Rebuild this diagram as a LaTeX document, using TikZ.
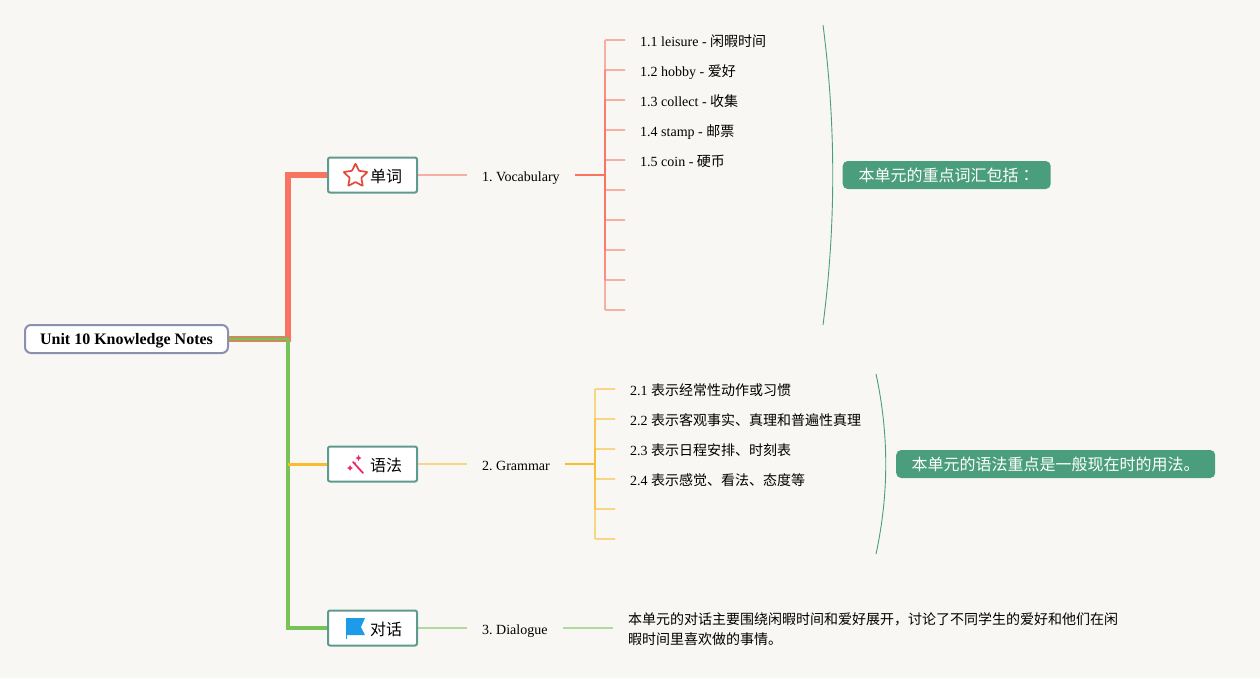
\documentclass[tikz,border=0pt]{standalone}
\usepackage{fontspec}
\setmainfont{Liberation Serif}
\newfontfamily\cjk{Noto Sans CJK SC}
\newfontfamily\cjktc{Noto Sans CJK TC}
\frenchspacing
\usetikzlibrary{calc,shapes.geometric}
\definecolor{bgc}{HTML}{F9F7F4}
\definecolor{rootb}{HTML}{8A90B0}
\definecolor{boxb}{HTML}{5F9A8F}
\definecolor{redc}{HTML}{F97361}
\definecolor{greenc}{HTML}{78C257}
\definecolor{olivec}{HTML}{A89C5C}
\definecolor{yellowc}{HTML}{F8BC2C}
\definecolor{pillc}{HTML}{4A9E7E}
\definecolor{staric}{HTML}{E5493A}
\definecolor{wandc}{HTML}{EC2A72}
\definecolor{flagc}{HTML}{1E9BE8}
\tikzset{
  x=1pt,y=-1pt,
  rootnode/.style={draw=rootb,line width=2pt,fill=white,rounded corners=6pt,minimum width=203pt,minimum height=28pt,inner sep=0pt},
  branchbox/.style={draw=boxb,line width=2pt,fill=white,rounded corners=2pt,minimum width=89pt,minimum height=35pt,inner sep=0pt},
  branchtext/.style={inner sep=0pt,font=\fontsize{16}{20}\selectfont\cjk},
  topic/.style={anchor=west,inner xsep=15pt,inner ysep=0pt,text height=10pt,text depth=3pt,font=\fontsize{14}{16}\selectfont},
  leaf/.style={anchor=west,inner xsep=15pt,inner ysep=0pt,text height=10pt,text depth=3pt,font=\fontsize{14}{16}\selectfont},
  pill/.style={anchor=west,fill=pillc,text=white,rounded corners=5pt,minimum height=28pt,inner sep=0pt,font=\fontsize{16}{18}\selectfont\cjk},
  twig/.style={line width=1.8pt,opacity=0.55,rounded corners=1pt},
  stub/.style={line width=2pt},
  brace/.style={draw=pillc,line width=0.9pt},
}
\begin{document}
\begin{tikzpicture}
\useasboundingbox[fill=bgc] (0,0) rectangle (1260,678);
% nodes
\node[rootnode] (root) at (126.5,339) {};
\node[inner sep=0pt,font=\fontsize{16}{18}\selectfont\bfseries] (roott) at (126.5,341) {Unit 10 Knowledge Notes};
\node[branchbox] (b1) at (372.5,175) {};
\node[branchbox] (b2) at (372.5,464) {};
\node[branchbox] (b3) at (372.5,628) {};
\node[branchtext] (b1t) at (386,176.5) {单词};
\node[branchtext] (b2t) at (386,465.5) {语法};
\node[branchtext] (b3t) at (386,629.5) {对话};
\node[topic] (t1) at (467,178) {1. Vocabulary};
\node[topic] (t2) at (467,467) {2. Grammar};
\node[topic] (t3) at (467,631) {3. Dialogue};
% trunk
\coordinate (j) at (288,339);
\draw[redc,line width=5.5pt] (root.east) -- (j) -- (j|-b1.west) -- (b1.west);
\draw[olivec,line width=4pt] (root.east) -- (j);
\draw[greenc,line width=2.4pt] (root.east) -- (j);
\draw[greenc,line width=4pt] (j) -- (j|-b3.west) -- (b3.west);
\draw[yellowc,line width=3pt] (j|-b2.west) -- (b2.west);
% vocabulary
\coordinate (vj) at (605,175);
\foreach \y in {40,70,100,130,160,190,220,250,280,310}{
  \draw[redc,twig] (vj) -- (605,\y) -- (625,\y);
}
\draw[redc,twig] (b1.east) -- (t1.west|-b1.east);
\draw[redc,stub] (t1.east|-vj) -- (vj);
\node[leaf] (l11) at (625,43) {1.1 leisure - {\cjk 闲暇时间}};
\node[leaf] (l12) at (625,73) {1.2 hobby - {\cjk 爱好}};
\node[leaf] (l13) at (625,103) {1.3 collect - {\cjk 收集}};
\node[leaf] (l14) at (625,133) {1.4 stamp - {\cjk 邮票}};
\node[leaf] (l15) at (625,163) {1.5 coin - {\cjk 硬币}};
% grammar
\coordinate (gj) at (595,464);
\foreach \y in {389,419,449,479,509,539}{
  \draw[yellowc,twig] (gj) -- (595,\y) -- (615,\y);
}
\draw[yellowc,twig] (b2.east) -- (t2.west|-b2.east);
\draw[yellowc,stub] (t2.east|-gj) -- (gj);
\node[leaf] (l21) at (615,392) {2.1 {\cjk 表示经常性动作或习惯}};
\node[leaf] (l22) at (615,422) {2.2 {\cjk 表示客观事实、真理和普遍性真理}};
\node[leaf] (l23) at (615,452) {2.3 {\cjk 表示日程安排、时刻表}};
\node[leaf] (l24) at (615,482) {2.4 {\cjk 表示感觉、看法、态度等}};
% dialogue
\node[anchor=north west,inner sep=0pt,align=left,font=\fontsize{14}{19.5}\selectfont\cjk] (l31) at (628,612.5) {本单元的对话主要围绕闲暇时间和爱好展开，讨论了不同学生的爱好和他们在闲\\暇时间里喜欢做的事情。};
\draw[greenc,twig] (b3.east) -- (t3.west|-b3.east);
\draw[greenc,twig] (t3.east|-b3.east) -- (613,628);
% braces and pills
\node[pill,minimum width=208pt] (p1) at (842.5,175) {本单元的重点词汇包括{\cjktc ：}};
\node[pill,minimum width=319pt] (p2) at (896,464) {本单元的语法重点是一般现在时的用法。};
\draw[brace] (823,25) .. controls (836,125) and (836,225) .. (823,325);
\draw[brace] (876,374) .. controls (889,434) and (889,494) .. (876,554);
% icons
\draw[staric,line width=1.7pt,line join=round,fill=white,rounded corners=0.6pt]
  (355.5,163.5) -- (359,170.8) -- (367.5,172) -- (361.3,177.8) -- (362.8,186) -- (355.5,182) -- (348.2,186) -- (349.7,177.8) -- (343.5,172) -- (352,170.8) -- cycle;
\draw[wandc,line width=1.8pt,line cap=round] (353,462) -- (363,473);
\fill[wandc] (358.5,455) -- (359.5,457) -- (361.5,458) -- (359.5,459) -- (358.5,461) -- (357.5,459) -- (355.5,458) -- (357.5,457) -- cycle;
\fill[wandc] (350,465) -- (351,467) -- (353,468) -- (351,469) -- (350,471) -- (349,469) -- (347,468) -- (349,467) -- cycle;
\fill[wandc] (355,463) circle (0.9pt);
\fill[flagc] (346,618) -- (365,618) -- (361,627) -- (365,635) -- (346,635) -- cycle;
\draw[flagc,line width=1pt] (346.5,618) -- (346.5,639);
\end{tikzpicture}
\end{document}
